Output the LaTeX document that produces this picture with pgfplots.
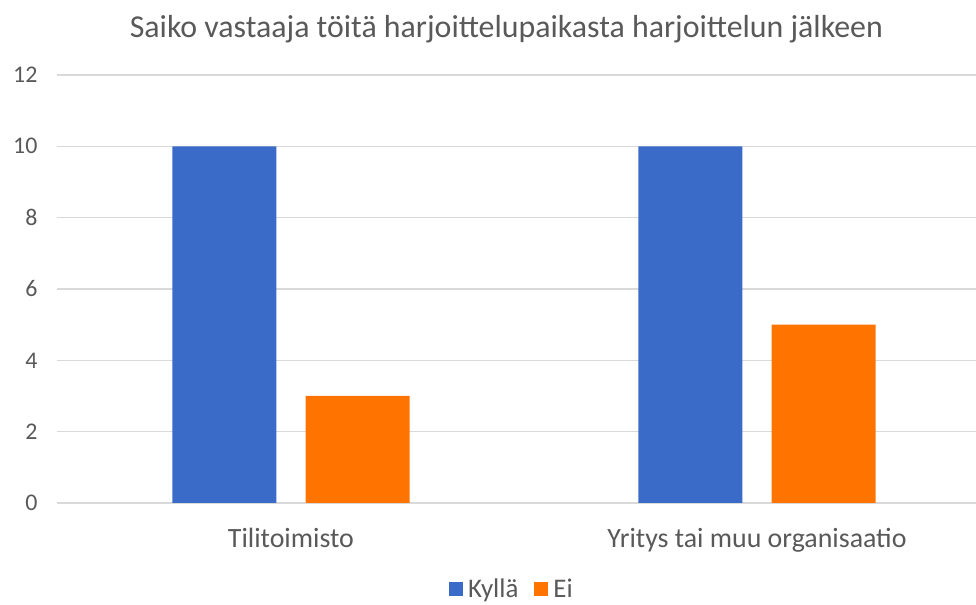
\documentclass[border=0pt]{standalone}
\usepackage{pgfplots}
\pgfplotsset{compat=1.18}
\usepackage{fontspec}
\setmainfont{Carlito}
\definecolor{kblue}{HTML}{3A6BC9}
\definecolor{korange}{HTML}{FF7400}
\definecolor{kgrid}{HTML}{D9D9D9}
\definecolor{ktext}{HTML}{595959}
\begin{document}
\begin{tikzpicture}[x=1bp,y=1bp]
\useasboundingbox (0,0) rectangle (976,605);
\begin{axis}[
  at={(57bp,102bp)}, anchor=south west,
  scale only axis, width=919bp, height=428bp,
  xmin=-0.502, xmax=1.47, ymin=0, ymax=12,
  ytick={0,2,...,12},
  xtick={0,1}, xticklabels={Tilitoimisto,Yritys tai muu organisaatio},
  ymajorgrids, grid style={kgrid, line width=1.2bp},
  axis line style={draw=none}, major tick length=0pt,
  ybar, bar width=0.223, 
  tick label style={text=ktext, font=\fontsize{24}{28}\selectfont},
  yticklabel style={xshift=-16bp},
  xticklabel style={font=\fontsize{28}{32}\selectfont, yshift=-22bp},
  /pgf/number format/assume math mode=true,
  title={Saiko vastaaja töitä harjoittelupaikasta harjoittelun jälkeen},
  title style={text=ktext, font=\fontsize{32}{38}\selectfont, at={(0.489,1)}, yshift=23bp},
  legend columns=2,
  legend style={at={(0.495,-0.20)}, anchor=center, draw=none, fill=none,
    font=\fontsize{27}{31}\selectfont, text=ktext, inner sep=0pt,
    /tikz/every odd column/.append style={column sep=3bp},
    /tikz/every even column/.append style={column sep=14bp}},
  legend image code/.code={\fill[#1] (0bp,-7bp) rectangle (14bp,7bp);},
]
\addplot[fill=kblue, draw=none, bar shift=-0.143] coordinates {(0,10) (1,10)};
\addplot[fill=korange, draw=none, bar shift=0.143] coordinates {(0,3) (1,5)};
\legend{Kyllä,Ei}
\end{axis}
\end{tikzpicture}
\end{document}
